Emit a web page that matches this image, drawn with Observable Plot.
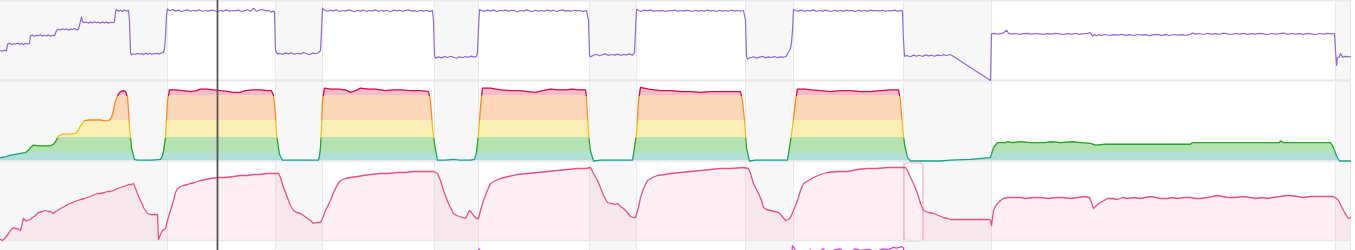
<!DOCTYPE html>
<html><head><meta charset="utf-8">
<script src="https://cdn.jsdelivr.net/npm/d3@7"></script>
<script src="https://cdn.jsdelivr.net/npm/@observablehq/plot@0.6"></script>
<style>
html,body{margin:0;padding:0;background:#fff;}
#chart{position:relative;width:1355px;height:250px;overflow:hidden;}
#chart svg{position:absolute;left:0;top:0;background:transparent !important;}
</style></head><body><div id="chart"></div>
<script>
// time axis: sample index (4 s samples)
const restStart = [0, 275, 434, 589, 745, 903, 1335];
const restEnd   = [167, 322, 478, 636, 793, 991, 1350];
const bandEdges = [167, 275, 322, 434, 478, 589, 636, 745, 793, 903, 991, 1335, 1350];
const cursorT = 217;
const selection = [904, 923];

// power (W)
const power = [[0,150],[2,146],[4,152],[6,148],[7,182],[9,186],[11,180],[13,184],[15,181],[17,187],[19,182],[21,185],[23,180],[25,186],[27,183],[29,185],[30,223],[32,227],[34,221],[36,226],[38,224],[40,229],[42,222],[44,226],[46,223],[48,228],[50,221],[52,226],[54,224],[56,250],[58,256],[60,253],[62,259],[64,254],[66,258],[68,252],[70,257],[72,255],[74,260],[76,253],[78,257],[80,297],[81,318],[82,294],[84,289],[86,293],[88,287],[90,292],[92,288],[94,294],[96,289],[98,291],[100,286],[102,293],[104,288],[106,292],[108,287],[110,291],[112,289],[114,292],[115,342],[116,355],[118,346],[120,351],[122,345],[124,352],[126,347],[128,350],[129,300],[130,140],[131,128],[133,134],[135,130],[137,136],[139,131],[141,135],[143,129],[145,137],[147,132],[149,136],[151,130],[153,135],[155,133],[157,137],[159,132],[161,138],[163,142],[164,160],[165,215],[166,330],[167,358],
[169,349],[172,355],[175,347],[178,352],[181,344],[184,350],[187,353],[190,346],[193,351],[196,348],[199,354],[202,345],[205,350],[208,347],[211,352],[214,349],[217,344],[220,351],[223,347],[226,353],[229,346],[232,350],[235,348],[238,352],[241,345],[244,349],[247,354],[250,347],[253,361],[256,346],[259,352],[262,355],[265,348],[268,350],[271,341],[273,347],[274,345],[275,150],[277,132],
[279,136],[282,130],[285,138],[288,133],[291,139],[294,131],[297,136],[300,133],[303,140],[306,134],[309,129],[312,137],[315,134],[318,139],[320,150],[321,250],[322,362],
[324,352],[327,346],[330,351],[333,348],[336,354],[339,345],[342,350],[345,347],[348,353],[351,349],[354,344],[357,351],[360,347],[363,352],[366,346],[369,350],[372,348],[375,353],[378,345],[381,351],[384,347],[387,350],[390,344],[393,352],[396,348],[399,351],[402,346],[405,350],[408,353],[411,347],[414,349],[417,345],[420,351],[423,347],[426,350],[429,346],[432,349],[433,300],[434,125],[435,112],
[438,118],[441,113],[444,120],[447,115],[450,121],[453,116],[456,111],[459,119],[462,114],[465,120],[468,116],[471,122],[474,117],[476,121],[477,140],[478,260],[479,355],
[481,350],[484,346],[487,352],[490,347],[493,353],[496,345],[499,350],[502,348],[505,352],[508,346],[511,351],[514,349],[517,344],[520,350],[523,347],[526,353],[529,348],[532,345],[535,351],[538,347],[541,350],[544,346],[547,352],[550,348],[553,351],[556,345],[559,350],[562,353],[565,347],[568,349],[571,346],[574,351],[577,348],[580,350],[583,346],[586,349],[588,300],[589,128],[590,118],
[593,126],[596,131],[599,124],[602,129],[605,133],[608,125],[611,130],[614,127],[617,132],[620,126],[623,130],[626,128],[629,133],[632,127],[634,140],[635,250],[636,356],
[638,350],[641,346],[644,352],[647,348],[650,353],[653,346],[656,350],[659,347],[662,351],[665,345],[668,350],[671,348],[674,352],[677,346],[680,350],[683,347],[686,351],[689,349],[692,345],[695,351],[698,347],[701,350],[704,346],[707,352],[710,348],[713,350],[716,345],[719,351],[722,347],[725,350],[728,346],[731,351],[734,348],[737,350],[740,347],[743,350],[745,300],[746,120],[747,108],
[750,114],[753,119],[756,112],[759,117],[762,121],[765,113],[768,118],[771,115],[774,120],[777,114],[780,118],[783,116],[786,121],[787,135],[789,150],[790,160],[791,192],[792,250],[793,355],
[795,350],[798,347],[801,352],[804,346],[807,350],[810,348],[813,353],[816,345],[819,350],[822,347],[825,352],[828,348],[831,345],[834,351],[837,347],[840,350],[843,346],[846,352],[849,348],[852,350],[855,345],[858,351],[861,347],[864,350],[867,346],[870,352],[873,348],[876,350],[879,347],[882,351],[885,346],[888,350],[891,348],[894,352],[897,346],[900,350],[902,348],[903,200],[904,122],
[907,124],[910,119],[913,127],[916,121],[919,126],[922,120],[925,128],[928,123],[931,126],[934,121],[937,127],[940,124],[943,129],[946,125],[950,130],[990,0],[991,233],
[994,236],[997,232],[1000,234],[1003,238],[1006,252],[1008,236],[1011,232],[1015,235],[1019,231],[1023,234],[1027,236],[1031,232],[1035,235],[1039,233],[1043,231],[1047,234],[1051,232],[1055,236],[1059,233],[1063,230],[1067,234],[1071,232],[1075,235],[1079,231],[1083,234],[1087,236],[1090,240],[1092,222],[1094,230],[1096,224],[1098,229],[1101,226],[1105,230],[1109,225],[1113,229],[1117,227],[1121,231],[1125,226],[1129,229],[1133,225],[1137,230],[1141,227],[1145,229],[1149,224],[1153,228],[1157,231],[1161,226],[1165,229],[1169,225],[1173,230],[1177,227],[1181,229],[1185,226],[1189,230],[1192,237],[1195,232],[1199,235],[1203,230],[1207,236],[1211,232],[1215,234],[1219,231],[1223,237],[1227,233],[1231,230],[1235,235],[1239,232],[1243,236],[1247,231],[1251,234],[1255,232],[1259,236],[1263,233],[1267,230],[1271,235],[1275,232],[1279,234],[1283,237],[1287,231],[1291,235],[1295,232],[1299,234],[1303,231],[1307,236],[1311,233],[1315,230],[1319,235],[1323,232],[1327,236],[1331,233],[1334,235],[1335,150],[1336,75],[1337,115],[1339,118],[1340,135],[1342,117],[1345,121],[1348,118],[1350,120]];

// heart rate (bpm) and zones
const hrMin = 90, hrMax = 185;
const zoneThresholds = [100, 118, 138, 168];
const zoneLine = ["#17a589", "#22a822", "#f2c014", "#ff8a1c", "#dc0a47"];
const zoneFill = ["#b2dfd6", "#b4e2b3", "#fdeeb5", "#fdd7ba", "#f7bccc"];
const heartRate = [[0,94],[5,95],[10,97],[15,98],[20,99],[25,100],[28,103],[30,106],[33,109],[38,108],[44,108],[50,108],[53,110],[56,115],[58,120],[62,122],[68,122],[75,123],[78,127],[80,132],[84,138],[88,139],[95,139],[100,139],[105,138],[108,138],[111,142],[113,150],[115,162],[118,170],[120,173],[123,174],[125,173],[127,166],[128,150],[129,130],[131,106],[134,92],[137,91],[145,91],[152,91],[160,92],[162,96],[163,102],[165,118],[166,140],[167,162],[169,175],[175,175],[182,174],[190,173],[196,174],[200,176],[206,176],[213,175],[220,174],[228,173],[233,172],[240,172],[245,174],[252,175],[260,175],[267,174],[271,174],[273,168],[275,145],[276,122],[278,105],[279,98],[282,91],[290,91],[300,91],[310,91],[318,91],[319,96],[320,106],[321,130],[322,162],[324,177],[330,176],[338,176],[345,175],[350,172],[355,174],[360,177],[368,176],[375,176],[385,174],[393,175],[400,175],[410,174],[420,174],[428,173],[430,162],[432,130],[434,110],[437,91],[445,91],[453,92],[460,91],[470,91],[474,92],[476,100],[478,122],[480,154],[482,177],[490,177],[500,175],[510,174],[520,174],[527,173],[535,172],[542,174],[550,176],[558,175],[565,175],[572,176],[578,175],[585,175],[586,166],[588,122],[590,102],[593,90],[600,91],[610,91],[620,91],[632,91],[633,98],[636,122],[638,162],[640,178],[648,176],[660,174],[670,174],[680,173],[690,173],[700,172],[710,173],[720,173],[730,173],[740,173],[742,162],[744,138],[746,106],[749,90],[755,91],[765,91],[775,91],[787,91],[789,106],[792,130],[795,162],[797,176],[805,176],[810,175],[820,174],[830,173],[840,174],[850,174],[860,173],[870,173],[880,174],[890,175],[898,175],[900,162],[902,130],[904,110],[907,94],[910,90],[920,90],[930,90],[940,90],[950,91],[970,92],[990,94],[993,106],[997,112],[1005,112],[1007,113],[1012,112],[1020,113],[1030,112],[1045,112],[1050,113],[1060,112],[1072,113],[1080,112],[1090,111],[1095,109],[1105,110],[1140,110],[1190,110],[1192,112],[1220,112],[1260,112],[1279,112],[1280,114],[1283,112],[1300,112],[1330,112],[1333,106],[1336,96],[1339,90],[1350,90]];

// third metric
const thirdSeries = [[0,1],[2,0],[5,3],[8,7],[10,10],[13,13],[15,12],[17,12],[20,10],[23,22],[25,20],[27,20],[30,21],[32,23],[35,25],[38,28],[42,29],[45,30],[48,29],[50,29],[53,27],[55,29],[57,30],[60,32],[64,34],[67,36],[70,37],[74,39],[77,40],[80,41],[84,42],[87,43],[90,44],[94,46],[97,47],[100,47],[104,48],[107,49],[110,49],[113,50],[117,52],[120,53],[123,54],[126,55],[128,56],[131,56],[133,57],[135,52],[137,47],[139,42],[140,40],[142,36],[143,33],[145,30],[147,27],[150,26],[153,26],[157,26],[158,1],[160,6],[162,10],[165,12],[167,20],[170,30],[173,40],[175,48],[177,52],[180,54],[183,55],[187,56],[190,57],[194,58],[197,59],[200,60],[205,61],[210,62],[217,63],[225,63],[233,64],[240,65],[247,65],[253,66],[260,66],[266,67],[272,67],[278,67],[280,63],[283,53],[285,48],[288,40],[290,35],[293,30],[296,28],[300,27],[303,25],[307,22],[310,20],[313,17],[316,18],[320,18],[322,22],[325,30],[328,36],[330,40],[333,48],[337,56],[340,60],[345,62],[350,63],[357,64],[363,65],[370,66],[380,67],[388,67],[397,68],[405,68],[413,69],[423,69],[433,69],[437,67],[440,60],[443,50],[446,42],[448,37],[450,33],[453,27],[456,25],[459,24],[462,23],[465,22],[467,26],[469,30],[471,28],[473,25],[476,22],[478,22],[480,30],[483,40],[486,48],[490,57],[495,60],[500,62],[508,64],[517,66],[527,67],[537,68],[547,69],[557,70],[567,71],[577,72],[585,72],[590,73],[593,67],[597,60],[600,53],[603,45],[607,38],[610,37],[612,37],[614,36],[617,37],[620,34],[623,32],[626,29],[630,24],[633,23],[635,23],[638,33],[640,43],[643,52],[647,60],[652,63],[657,65],[664,66],[670,67],[680,68],[690,69],[700,70],[710,71],[720,72],[730,72],[743,73],[748,72],[750,67],[753,57],[756,51],[758,47],[761,40],[763,33],[766,31],[770,30],[774,29],[778,28],[781,25],[785,20],[788,21],[790,23],[793,30],[797,40],[800,50],[803,57],[808,60],[813,63],[820,66],[827,68],[837,69],[847,69],[857,71],[867,72],[877,72],[887,73],[895,73],[903,73],[905,73],[907,70],[910,63],[913,57],[917,47],[920,37],[923,30],[928,28],[933,27],[938,25],[943,23],[947,22],[950,21],[960,21],[970,21],[980,21],[989,21],[990,20],[991,15],[993,30],[996,36],[998,38],[1000,40],[1003,42],[1007,43],[1015,43],[1020,43],[1025,42],[1033,43],[1040,43],[1048,42],[1055,43],[1062,43],[1070,42],[1077,43],[1083,44],[1089,43],[1091,38],[1093,32],[1096,35],[1098,37],[1102,39],[1107,42],[1112,42],[1117,41],[1122,43],[1127,42],[1133,43],[1140,42],[1145,43],[1150,44],[1155,43],[1160,42],[1167,42],[1172,43],[1177,42],[1183,43],[1190,43],[1195,42],[1200,42],[1207,43],[1212,44],[1217,45],[1222,44],[1228,43],[1235,43],[1242,44],[1250,43],[1255,42],[1262,43],[1267,42],[1272,43],[1280,44],[1285,45],[1290,45],[1297,44],[1303,43],[1310,44],[1317,44],[1325,44],[1333,44],[1336,42],[1338,40],[1341,34],[1343,30],[1346,25],[1348,22],[1350,23]];

// fourth metric (mostly below the visible strip)
const fourthSeries = [[0,60],[476,62],[478,92],[479,93],[480,62],[790,65],[792,97],[794,94],[797,80],[805,88],[810,92],[812,85],[820,91],[823,93],[826,88],[835,92],[840,93],[845,87],[855,93],[860,91],[868,92.5],[875,89],[882,93],[888,92],[893,95],[896,94],[899,95],[901,96],[903,94],[905,60],[1350,60]];

const W = 1355, H = 250;
const common = {width: W, height: H, marginTop: 0, marginBottom: 0, marginLeft: 0, marginRight: 5,
  x: {domain: [0, 1350], axis: null}, style: {background: "transparent"}};
const X = d => d[0], Y = d => d[1];
const chart = document.getElementById("chart");

const bg = Plot.plot({...common, marks: [
  Plot.rect(restStart.map((s, i) => [s, restEnd[i]]), {x1: d => d[0], x2: d => d[1], fill: "#f7f7f7"}),
  Plot.ruleX(bandEdges, {stroke: "#e9e9ed", strokeWidth: 1}),
  Plot.frame({anchor: "top", stroke: "#e9e9ee", strokeWidth: 2})
]});

const p1 = Plot.plot({...common, y: {domain: [0, 390], range: [80, 2], axis: null}, marks: [
  Plot.ruleY([0], {stroke: "#e6e6eb", strokeWidth: 2}),
  Plot.line(power, {x: X, y: Y, stroke: "#9068dc", strokeWidth: 1.2})
]});

const p2 = Plot.plot({...common, y: {domain: [hrMin, hrMax], range: [160.5, 81], axis: null}, marks: [
  Plot.areaY(heartRate, {x: X, y1: () => hrMin, y2: Y, fill: "url(#hrfill)"}),
  Plot.ruleY([hrMin], {stroke: "#e6e6eb", strokeWidth: 1.5}),
  Plot.line(heartRate, {x: X, y: Y, stroke: "url(#hrstroke)", strokeWidth: 1.3})
]});
{
  const ys = p2.scale("y");
  const defs = d3.select(p2).insert("defs", ":first-child");
  const edges = [hrMin, ...zoneThresholds, hrMax];
  const addGrad = (id, colors) => {
    const g = defs.append("linearGradient").attr("id", id).attr("gradientUnits", "userSpaceOnUse")
      .attr("x1", 0).attr("x2", 0).attr("y1", ys.apply(hrMin)).attr("y2", ys.apply(hrMax));
    colors.forEach((c, i) => {
      g.append("stop").attr("offset", (edges[i] - hrMin) / (hrMax - hrMin)).attr("stop-color", c);
      g.append("stop").attr("offset", (edges[i + 1] - hrMin) / (hrMax - hrMin)).attr("stop-color", c);
    });
  };
  addGrad("hrfill", zoneFill);
  addGrad("hrstroke", zoneLine);
}

const p3 = Plot.plot({...common, y: {domain: [0, 79], range: [240, 161], axis: null}, marks: [
  Plot.rect([selection], {x1: d => d[0], x2: d => d[1], y1: () => 0, y2: () => 79, insetTop: 2, insetBottom: -1,
    fill: "white", fillOpacity: 0.85, stroke: "#f3b3c6", strokeWidth: 1.2, rx: 3}),
  Plot.areaY(thirdSeries, {x: X, y: Y, fill: "#e8527f", fillOpacity: 0.09}),
  Plot.ruleY([0], {stroke: "#e6e6eb", strokeWidth: 1.5}),
  Plot.line(thirdSeries, {x: X, y: Y, stroke: "#e8527f", strokeWidth: 1.3})
]});

const p4 = Plot.plot({...common, y: {domain: [0, 100], range: [320, 243], axis: null}, marks: [
  Plot.line(fourthSeries, {x: X, y: Y, stroke: "#e23be6", strokeWidth: 1.2}),
  Plot.ruleX([cursorT], {stroke: "#555", strokeWidth: 1.8})
]});

[bg, p1, p2, p3, p4].forEach(s => chart.appendChild(s));
</script></body></html>
